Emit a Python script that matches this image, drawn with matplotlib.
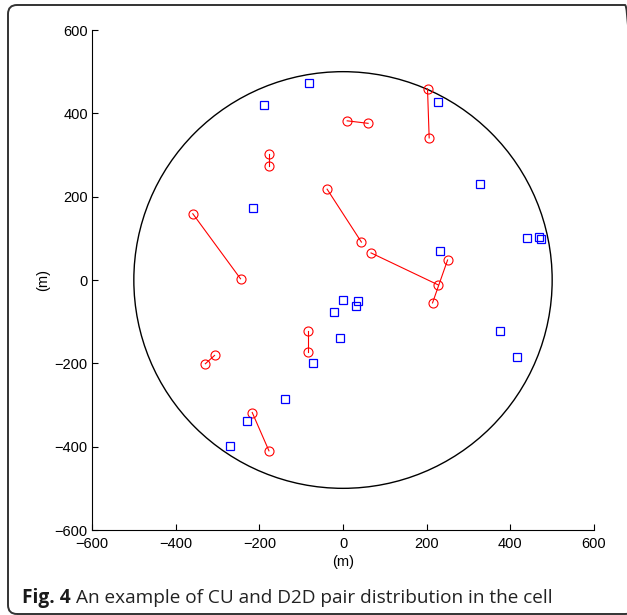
import numpy as np
import matplotlib
matplotlib.use("Agg")
from matplotlib import pyplot as plt
from matplotlib.patches import Circle, FancyBboxPatch
from matplotlib.transforms import IdentityTransform

# cellular users (CU)
cu_x = [-82, -190, 228, -215, 327, 440, 468, 474, 231, 1, 36, 30, -22, -8, -72, -139, -230, -269, 375, 417]
cu_y = [474, 420, 427, 173, 230, 102, 104, 98, 70, -48, -51, -62, -76, -139, -199, -286, -338, -398, -122, -184]

# D2D pairs: transmitter / receiver
tx_x = [10, -176, -38, -359, 67, 202, 250, -307, -84, -217]
tx_y = [382, 302, 218, 159, 65, 459, 48, -181, -122, -318]
rx_x = [60, -176, 44, -245, 228, 206, 214, -329, -84, -177]
rx_y = [376, 274, 91, 3, -12, 341, -55, -201, -172, -410]

cell_radius = 500
ticks = [-600, -400, -200, 0, 200, 400, 600]

plt.rcParams['font.family'] = ['Liberation Sans', 'DejaVu Sans']

fig = plt.figure(figsize=(6.27, 6.15), dpi=100)
ax = fig.add_axes([92 / 627, 85 / 615, 502 / 627, 500 / 615])

ax.add_patch(Circle((0, 0), cell_radius, fill=False, color="black", lw=1.0))

for i in range(len(tx_x)):
    ax.plot([tx_x[i], rx_x[i]], [tx_y[i], rx_y[i]], color="red", lw=0.8,
            marker="o", ms=6.5, mfc="none", mec="red", mew=0.8)

ax.plot(cu_x, cu_y, ls="none", marker="s", ms=5.2, mfc="none", mec="blue", mew=0.9)

ax.set_xlim(-600, 600)
ax.set_ylim(-600, 600)
ax.set_xticks(ticks)
ax.set_yticks(ticks)
ax.set_xticklabels([str(t).replace("-", "\u2212") for t in ticks])
ax.set_yticklabels([str(t).replace("-", "\u2212") for t in ticks])
ax.tick_params(direction="in", length=4, width=0.8, labelsize=10.5)
ax.tick_params(axis="x", pad=5)
ax.tick_params(axis="y", pad=3)
ax.spines["top"].set_visible(False)
ax.spines["right"].set_visible(False)
ax.set_xlabel("(m)", fontsize=10.5, labelpad=3)
ax.set_ylabel("(m)", fontsize=10.5, labelpad=3)

# caption
t1 = fig.text(22 / 627, 1 - 603 / 615, "Fig. 4", fontsize=13.8, fontweight="bold",
              family="Open Sans", color="#1a1a1a", va="baseline")
fig.canvas.draw()
bb = t1.get_window_extent()
fig.text(bb.x1 / 627 + 0.008, 1 - 603 / 615, "An example of CU and D2D pair distribution in the cell",
         fontsize=13.7, family="Open Sans", color="#222222", va="baseline")

# rounded frame round the figure (right edge runs off the picture)
frame = FancyBboxPatch((8, 1), 626, 609, boxstyle="round,pad=0,rounding_size=9",
                       fill=False, ec="#333333", lw=1.4, transform=IdentityTransform())
fig.add_artist(frame)

fig.savefig("out.png", dpi=100)
